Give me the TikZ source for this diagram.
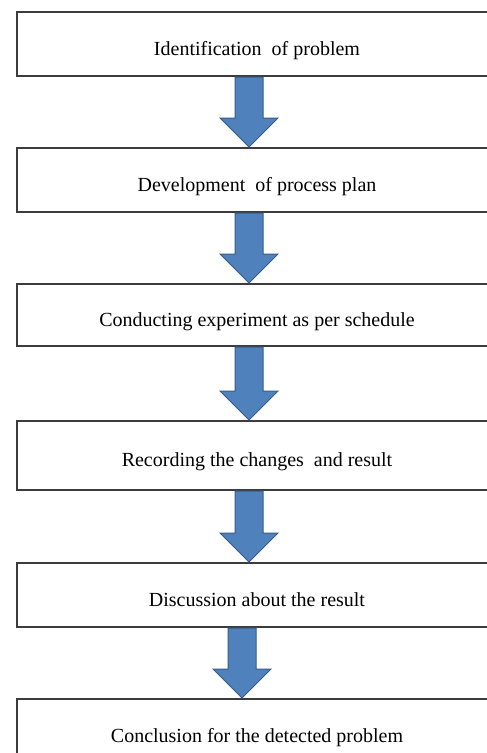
\documentclass[tikz,border=0pt]{standalone}
\usepackage{fontspec}
\setmainfont{Liberation Serif}
\usetikzlibrary{calc}
\definecolor{boxline}{HTML}{3C3C3C}
\definecolor{arrowfill}{HTML}{4F81BD}
\definecolor{arrowline}{HTML}{385D8A}
\newcommand{\stagetext}[1]{\raisebox{-6pt}{#1}}
\begin{document}
\begin{tikzpicture}[x=1pt,y=-1pt,
  stage/.style={draw=boxline, line width=2pt, fill=white, anchor=north west,
    minimum width=480pt, inner sep=0pt, text=black,
    text height=14pt, text depth=4pt,
    font=\fontsize{20}{22}\selectfont},
  flowarrow/.style={fill=arrowfill, draw=arrowline, line width=1pt, line join=miter}]
\clip (0,0) rectangle (487,753);
\fill[white] (0,0) rectangle (487,753);

% process stages
\node[stage, minimum height=64pt] (s1) at (16,11)  {\stagetext{Identification\ \ of problem}};
\node[stage, minimum height=64pt] (s2) at (16,147) {\stagetext{Development\ \ of process plan}};
\node[stage, minimum height=62pt] (s3) at (16,283) {\stagetext{Conducting experiment as per schedule}};
\node[stage, minimum height=69pt] (s4) at (16,420) {\stagetext{Recording the changes\ \ and result}};
\node[stage, minimum height=64pt] (s5) at (16,562) {\stagetext{Discussion about the result}};
\node[stage, minimum height=64pt] (s6) at (16,698) {\stagetext{Conclusion for the detected problem}};

% block arrows between consecutive stages
\foreach \a/\b/\cx in {s1/s2/249, s2/s3/249, s3/s4/249, s4/s5/249, s5/s6/242}{
  \draw[flowarrow] let \p1=(\a.south west), \p2=(\b.north west) in
    (\cx-14,\y1) -- (\cx+14,\y1) -- (\cx+14,\y2+29) -- (\cx+29,\y2+29)
    -- (\cx,\y2) -- (\cx-29,\y2+29) -- (\cx-14,\y2+29) -- cycle;
}
\end{tikzpicture}
\end{document}
